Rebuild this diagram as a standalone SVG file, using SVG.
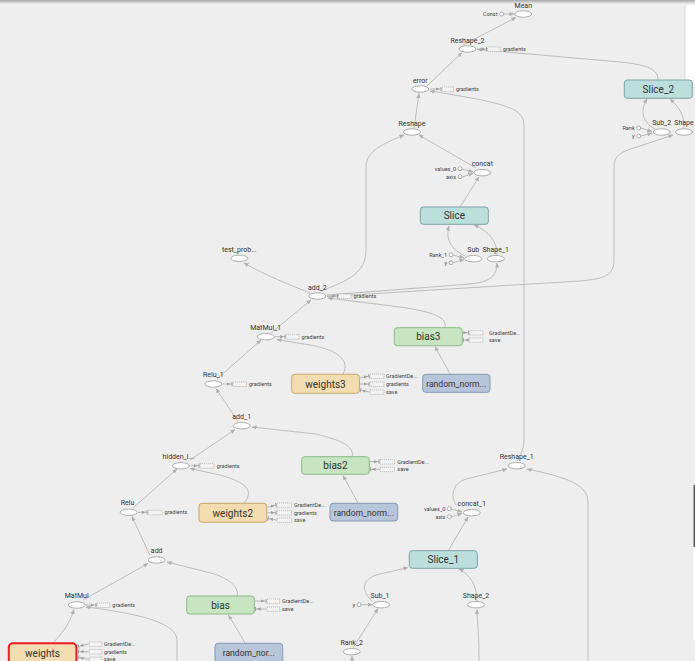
<svg xmlns="http://www.w3.org/2000/svg" width="695" height="661" viewBox="0 0 695 661">
<defs>
<style>
.bg{fill:#eeeeee}
.op{fill:#ffffff;stroke:#9a9a9a;stroke-width:0.8}
.cst{fill:#ffffff;stroke:#9a9a9a;stroke-width:0.8}
.lbl{font-family:Roboto,"Liberation Sans",sans-serif;font-size:7px;fill:#333;text-anchor:middle}
.sm{font-family:Roboto,"Liberation Sans",sans-serif;font-size:5.5px;fill:#444}
.smr{font-family:Roboto,"Liberation Sans",sans-serif;font-size:5.5px;fill:#444;text-anchor:end}
.big{font-family:Roboto,"Liberation Sans",sans-serif;font-size:10px;fill:#333;text-anchor:middle}
.rn{font-family:Roboto,"Liberation Sans",sans-serif;font-size:8.6px;fill:#333;text-anchor:middle}
.edge{fill:none;stroke:#bcbcbc;stroke-width:1}
.ctl{fill:none;stroke:#a8a8a8;stroke-width:0.8}
.box{fill:#f4f4f4;stroke:#a0a0a0;stroke-width:0.6;stroke-dasharray:1.2,0.8}
.teal{fill:#bcdfdc;stroke:#7ea3a0;stroke-width:1}
.green{fill:#c7e5c0;stroke:#8db987;stroke-width:1}
.tan{fill:#f2dcb0;stroke:#c9a872;stroke-width:1}
.sel{fill:#f2dcb0;stroke:#ee1c25;stroke-width:2}
.blue{fill:#b8c6db;stroke:#8797b3;stroke-width:1}
</style>
<marker id="ah" viewBox="0 0 6 6" refX="5.5" refY="3" markerWidth="5" markerHeight="5" markerUnits="userSpaceOnUse" orient="auto"><path d="M0,0.5 L6,3 L0,5.5 z" fill="#b0b0b0"/></marker>
<marker id="bar" viewBox="0 0 8 6" refX="7.5" refY="3" markerWidth="6" markerHeight="5" markerUnits="userSpaceOnUse" orient="auto"><path d="M0,0.8 L5,3 L0,5.2 z" fill="#a0a0a0"/><path d="M6.8,0 L6.8,6" stroke="#909090" stroke-width="1"/></marker>
<linearGradient id="topg" x1="0" y1="0" x2="0" y2="1"><stop offset="0" stop-color="#a8a8a8"/><stop offset="1" stop-color="#eeeeee"/></linearGradient>
</defs>
<rect class="bg" x="0" y="0" width="695" height="661"/>
<rect x="0" y="0" width="695" height="4" fill="url(#topg)"/>
<rect x="684.5" y="5" width="10.5" height="83" fill="#dcdcdc"/>
<rect x="685.5" y="5" width="9.5" height="82" fill="#ffffff"/>
<rect x="693.5" y="485" width="1.5" height="155" fill="#ffffff"/>
<rect x="693.5" y="485" width="1.5" height="62" fill="#555555"/>

<g id="connectors">
<path class="edge" marker-end="url(#ah)" d="M504,14 L514,14"/>
<path class="edge" marker-end="url(#ah)" d="M463,45 L516,17.5"/>
<path class="edge" marker-end="url(#ah)" d="M427,86 L462,52.5"/>
<path class="edge" marker-end="url(#ah)" d="M414,128 L419,93.5"/>
<path class="edge" marker-end="url(#ah)" d="M476,168 L419,135"/>
<path class="edge" marker-end="url(#ah)" d="M321,291 C350,280 366,272 366,250 L366,168 C366,152 378,146 404,135"/>
<path class="edge" marker-end="url(#ah)" d="M460,207 L479,177"/>
<path class="edge" marker-end="url(#ah)" d="M462,169 L473,172"/>
<path class="edge" marker-end="url(#ah)" d="M462,177 L473,173.5"/>
<path class="edge" marker-end="url(#ah)" d="M465,256 C452,250 445,240 449,226"/>
<path class="edge" marker-end="url(#ah)" d="M497,255 C497,242 490,232 474,225"/>
<path class="edge" marker-end="url(#ah)" d="M453,255 L464,258"/>
<path class="edge" marker-end="url(#ah)" d="M453,262.7 L464,259.5"/>
<path class="edge" marker-end="url(#ah)" d="M327,295 L470,284 C490,282 497,276 497,263"/>
<path class="edge" marker-end="url(#ah)" d="M327,296.5 L580,281 C605,279 614,275 614,260 L614,168 C614,155 620,152 640,146 L673,135"/>
<path class="edge" marker-end="url(#ah)" d="M658,80 C658,70 650,65 620,62 L478,49.5"/>
<path class="edge" marker-end="url(#ah)" d="M655,129 C642,122 640,110 647,99"/>
<path class="edge" marker-end="url(#ah)" d="M684,128 C684,115 680,108 670,99"/>
<path class="edge" marker-end="url(#ah)" d="M641,128 L652,131.5"/>
<path class="edge" marker-end="url(#ah)" d="M641,136 L652,133"/>
<path class="edge" marker-end="url(#ah)" d="M517,461.5 C520,455 524,450 524,440 L524,125 C524,108 505,103 430,91"/>
<path class="edge" marker-end="url(#ah)" d="M310,293 C290,285 265,275 244,263"/>
<path class="edge" marker-end="url(#ah)" d="M271,333 L311,300"/>
<path class="edge" marker-end="url(#ah)" d="M445,327 C447,318 435,312 400,307 L328,298"/>
<path class="edge" marker-end="url(#ah)" d="M343,374 C350,362 340,350 310,345 L277,339.5"/>
<path class="edge" marker-end="url(#ah)" d="M450,374 L435,346.5"/>
<path class="edge" marker-end="url(#ah)" d="M217,379 L261,340"/>
<path class="edge" marker-end="url(#ah)" d="M238,421.5 L216,388.5"/>
<path class="edge" marker-end="url(#ah)" d="M190,460 L235,429.5"/>
<path class="edge" marker-end="url(#ah)" d="M352,457 C355,446 340,440 316,434 L252,427"/>
<path class="edge" marker-end="url(#ah)" d="M244,503 C255,490 245,482 220,475 L190,468.5"/>
<path class="edge" marker-end="url(#ah)" d="M358,503 L343,475.5"/>
<path class="edge" marker-end="url(#ah)" d="M133,508 L177,469"/>
<path class="edge" marker-end="url(#ah)" d="M150,555.5 L132,516.5"/>
<path class="edge" marker-end="url(#ah)" d="M83,600 L148,563.5"/>
<path class="edge" marker-end="url(#ah)" d="M237,596 C240,586 225,576 207,572 L167,562"/>
<path class="edge" marker-end="url(#ah)" d="M53,643 C60,635 68,628 74,609.5"/>
<path class="edge" marker-end="url(#ah)" d="M245,643 L228.5,615"/>
<path class="edge" marker-end="url(#ah)" d="M177,661 L177,640 C176,625 150,615 86,607"/>
<path class="edge" marker-end="url(#ah)" d="M456,505 C450,495 452,482 470,478 L507,469"/>
<path class="edge" marker-end="url(#ah)" d="M588,661 L588,503 C588,485 570,478 527,469"/>
<path class="edge" marker-end="url(#ah)" d="M448,551 L468,517"/>
<path class="edge" marker-end="url(#ah)" d="M451,509 L462,512"/>
<path class="edge" marker-end="url(#ah)" d="M451,517 L462,513.5"/>
<path class="edge" marker-end="url(#ah)" d="M372,601 C360,590 362,578 380,574 L408,567.5"/>
<path class="edge" marker-end="url(#ah)" d="M477,601 C477,585 470,575 459,569"/>
<path class="edge" marker-end="url(#ah)" d="M361,604.7 L372.5,604.7"/>
<path class="edge" marker-end="url(#ah)" d="M353,648 L378,608.5"/>
<path class="edge" marker-end="url(#ah)" d="M352,661 L352,656"/>
<path class="edge" marker-end="url(#ah)" d="M479,661 C479,630 477,620 477,609.5"/>
</g>

<g id="Mean"><ellipse class="op" cx="523.3" cy="14" rx="8.5" ry="3.2"/><text class="lbl" x="523.3" y="8">Mean</text></g>
<g id="Const"><circle class="cst" cx="501.7" cy="14" r="2"/><text class="smr" x="497.5" y="16">Const</text></g>
<g id="Reshape_2"><ellipse class="op" cx="467.5" cy="49" rx="8.5" ry="3.2"/><text class="lbl" x="467.5" y="42.5">Reshape_2</text>
<path class="ctl" marker-end="url(#bar)" d="M477,49 L487,49"/><rect class="box" x="487.5" y="47" width="12.5" height="4.5"/><text class="sm" x="503" y="51">gradients</text></g>
<g id="error"><ellipse class="op" cx="420.3" cy="89" rx="8.5" ry="3.2"/><text class="lbl" x="420.3" y="82.5">error</text>
<path class="ctl" marker-end="url(#bar)" d="M430,89 L441.5,89"/><rect class="box" x="442" y="87" width="11.5" height="4.5"/><text class="sm" x="456" y="91">gradients</text></g>
<g id="Reshape"><ellipse class="op" cx="412" cy="132" rx="8.5" ry="3.2"/><text class="lbl" x="412" y="125.5">Reshape</text></g>
<g id="concat"><ellipse class="op" cx="482.3" cy="172.7" rx="8.5" ry="3.2"/><text class="lbl" x="482.3" y="166">concat</text></g>
<g id="values_0"><circle class="cst" cx="460" cy="168.7" r="2"/><text class="smr" x="456" y="170.7">values_0</text></g>
<g id="axis"><circle class="cst" cx="460" cy="176.7" r="2"/><text class="smr" x="456" y="178.7">axis</text></g>
<g id="Slice"><rect class="teal" x="420.3" y="207" width="68" height="17.3" rx="3"/><text class="big" x="454.3" y="219.3">Slice</text></g>
<g id="Sub"><ellipse class="op" cx="473.3" cy="258.7" rx="8.5" ry="3.2"/><text class="lbl" x="473.3" y="252">Sub</text></g>
<g id="Rank_1"><circle class="cst" cx="451" cy="254.7" r="2"/><text class="smr" x="447" y="256.7">Rank_1</text></g>
<g id="y_1"><circle class="cst" cx="451" cy="262.7" r="2"/><text class="smr" x="447" y="264.7">y</text></g>
<g id="Shape_1"><ellipse class="op" cx="495.7" cy="258.7" rx="8.5" ry="3.2"/><text class="lbl" x="495.7" y="252">Shape_1</text></g>
<g id="Slice_2"><rect class="teal" x="624.3" y="80" width="68" height="18.3" rx="3"/><text class="big" x="658.3" y="92.7">Slice_2</text></g>
<g id="Sub_2"><ellipse class="op" cx="661.7" cy="132" rx="8.5" ry="3.2"/><text class="lbl" x="661.7" y="125.3">Sub_2</text></g>
<g id="Rank"><circle class="cst" cx="638.7" cy="128" r="2"/><text class="smr" x="634.7" y="130">Rank</text></g>
<g id="y_2"><circle class="cst" cx="638.7" cy="136" r="2"/><text class="smr" x="634.7" y="138">y</text></g>
<g id="Shape"><ellipse class="op" cx="684" cy="132" rx="8.5" ry="3.2"/><text class="lbl" x="684" y="125.3">Shape</text></g>
<g id="test_prob"><ellipse class="op" cx="239.3" cy="258.3" rx="8.5" ry="3.2"/><text class="lbl" x="239.3" y="252">test_prob...</text></g>
<g id="add_2"><ellipse class="op" cx="317.3" cy="296" rx="8.5" ry="3.2"/><text class="lbl" x="317.3" y="289.5">add_2</text>
<path class="ctl" marker-end="url(#bar)" d="M327,296 L338,296"/><rect class="box" x="338.5" y="294" width="12.5" height="4.5"/><text class="sm" x="353.5" y="298">gradients</text></g>
<g id="MatMul_1"><ellipse class="op" cx="265.7" cy="336.7" rx="8.5" ry="3.2"/><text class="lbl" x="265.7" y="329.5">MatMul_1</text>
<path class="ctl" marker-end="url(#bar)" d="M275,336.7 L285.5,336.7"/><rect class="box" x="286" y="334.7" width="13" height="4.5"/><text class="sm" x="301.5" y="338.7">gradients</text></g>
<g id="bias3"><rect class="green" x="394.3" y="327.7" width="68" height="18" rx="3"/><text class="big" x="428.3" y="340.3">bias3</text>
<path class="ctl" marker-end="url(#bar)" d="M463,332.7 L469,332.7"/><rect class="box" x="469.5" y="330.7" width="13.5" height="4.3"/><text class="sm" x="489" y="334.7">GradientDe...</text>
<path class="ctl" marker-end="url(#bar)" d="M469,340 L463,340"/><rect class="box" x="469.5" y="338" width="13.5" height="4.3"/><text class="sm" x="489" y="342">save</text></g>
<g id="weights3"><rect class="tan" x="291.7" y="374.3" width="67.7" height="19" rx="3"/><text class="big" x="325.5" y="387.5">weights3</text>
<path class="ctl" marker-end="url(#bar)" d="M360,378 L369.5,376"/><rect class="box" x="370" y="374" width="14" height="4.3"/><text class="sm" x="386" y="378">GradientDe...</text>
<path class="ctl" marker-end="url(#bar)" d="M360,384 L369.5,384"/><rect class="box" x="370" y="382" width="14" height="4.3"/><text class="sm" x="386" y="386">gradients</text>
<path class="ctl" marker-end="url(#bar)" d="M369.5,392 L360,390"/><rect class="box" x="370" y="390" width="14" height="4.3"/><text class="sm" x="386" y="394">save</text></g>
<g id="random_norm3"><rect class="blue" x="422.7" y="374.3" width="67.3" height="18" rx="3"/><text class="rn" x="456.3" y="386.5">random_norm...</text></g>
<g id="Relu_1"><ellipse class="op" cx="213.3" cy="384" rx="8.5" ry="3.2"/><text class="lbl" x="213.3" y="377">Relu_1</text>
<path class="ctl" marker-end="url(#bar)" d="M223,384 L232.5,384"/><rect class="box" x="233" y="382" width="13.5" height="4.5"/><text class="sm" x="249" y="386">gradients</text></g>
<g id="add_1"><ellipse class="op" cx="241.7" cy="425.7" rx="8.5" ry="3.2"/><text class="lbl" x="241.7" y="418.5">add_1</text></g>
<g id="hidden_l"><ellipse class="op" cx="181" cy="465.7" rx="8.5" ry="3.2"/><text class="lbl" x="178.3" y="458.5">hidden_l...</text>
<path class="ctl" marker-end="url(#bar)" d="M191,465.7 L199.5,465.7"/><rect class="box" x="200" y="463.7" width="14" height="4.5"/><text class="sm" x="216.7" y="467.7">gradients</text></g>
<g id="bias2"><rect class="green" x="301.7" y="456.7" width="67.6" height="17.6" rx="3"/><text class="big" x="335.5" y="469">bias2</text>
<path class="ctl" marker-end="url(#bar)" d="M370,461.7 L379.5,461.7"/><rect class="box" x="380" y="459.7" width="14.5" height="4.3"/><text class="sm" x="397.3" y="463.7">GradientDe...</text>
<path class="ctl" marker-end="url(#bar)" d="M379.5,469.3 L370,469.3"/><rect class="box" x="380" y="467.3" width="14.5" height="4.3"/><text class="sm" x="397.3" y="471.3">save</text></g>
<g id="weights2"><rect class="tan" x="199" y="503.3" width="67.7" height="19" rx="3"/><text class="big" x="232.8" y="516.5">weights2</text>
<path class="ctl" marker-end="url(#bar)" d="M267.5,507 L276.5,505"/><rect class="box" x="277" y="503" width="14.5" height="4.3"/><text class="sm" x="294" y="507">GradientDe...</text>
<path class="ctl" marker-end="url(#bar)" d="M267.5,512.7 L276.5,512.7"/><rect class="box" x="277" y="510.7" width="14.5" height="4.3"/><text class="sm" x="294" y="514.7">gradients</text>
<path class="ctl" marker-end="url(#bar)" d="M276.5,520 L267.5,518.5"/><rect class="box" x="277" y="518" width="14.5" height="4.3"/><text class="sm" x="294" y="522">save</text></g>
<g id="random_norm2"><rect class="blue" x="330" y="503.3" width="67.7" height="17.7" rx="3"/><text class="rn" x="363.8" y="515.5">random_norm...</text></g>
<g id="Relu"><ellipse class="op" cx="128.7" cy="512.3" rx="8.5" ry="3.2"/><text class="lbl" x="127.5" y="505.3">Relu</text>
<path class="ctl" marker-end="url(#bar)" d="M138,512.3 L147.5,512.3"/><rect class="box" x="148.3" y="510.3" width="14" height="4.5"/><text class="sm" x="164.5" y="514.3">gradients</text></g>
<g id="add"><ellipse class="op" cx="156.7" cy="560" rx="8.5" ry="3.2"/><text class="lbl" x="156.7" y="553">add</text></g>
<g id="MatMul"><ellipse class="op" cx="76.7" cy="605" rx="8.5" ry="3.2"/><text class="lbl" x="76.7" y="597.5">MatMul</text>
<path class="ctl" marker-end="url(#bar)" d="M86,605 L96.5,605"/><rect class="box" x="97" y="603" width="13" height="4.5"/><text class="sm" x="112.3" y="607">gradients</text></g>
<g id="bias"><rect class="green" x="186.7" y="596" width="67.6" height="18" rx="3"/><text class="big" x="220.5" y="608.5">bias</text>
<path class="ctl" marker-end="url(#bar)" d="M255,601 L266.5,601"/><rect class="box" x="267" y="599" width="12.5" height="4.3"/><text class="sm" x="282" y="603">GradientDe...</text>
<path class="ctl" marker-end="url(#bar)" d="M266.5,609 L255,609"/><rect class="box" x="267" y="607" width="12.5" height="4.3"/><text class="sm" x="282" y="611">save</text></g>
<g id="weights"><rect class="sel" x="8.8" y="643.2" width="67.6" height="21" rx="4"/><text class="big" x="42.5" y="656.5">weights</text>
<path class="ctl" marker-end="url(#bar)" d="M88.5,644 L78,646.5"/><rect class="box" x="89.3" y="642" width="12.5" height="4.3"/><text class="sm" x="104" y="646">GradientDe...</text>
<path class="ctl" marker-end="url(#bar)" d="M88.5,651.7 L78,651.7"/><rect class="box" x="89.3" y="649.7" width="12.5" height="4.3"/><text class="sm" x="104" y="653.7">gradients</text>
<path class="ctl" marker-end="url(#bar)" d="M88.5,659.3 L78,657.5"/><rect class="box" x="89.3" y="657.3" width="12.5" height="4.3"/><text class="sm" x="104" y="661.3">save</text></g>
<g id="random_nor"><rect class="blue" x="215" y="643.3" width="67.7" height="19" rx="3"/><text class="rn" x="248.8" y="655.5">random_nor...</text></g>
<g id="Reshape_1"><ellipse class="op" cx="516.7" cy="465.7" rx="8.5" ry="3.2"/><text class="lbl" x="516.7" y="458.5">Reshape_1</text></g>
<g id="concat_1"><ellipse class="op" cx="471.7" cy="512.7" rx="8.5" ry="3.2"/><text class="lbl" x="471.7" y="505.5">concat_1</text></g>
<g id="values_0_1"><circle class="cst" cx="449.3" cy="508.7" r="2"/><text class="smr" x="445.3" y="510.7">values_0</text></g>
<g id="axis_1"><circle class="cst" cx="449.3" cy="516.7" r="2"/><text class="smr" x="445.3" y="518.7">axis</text></g>
<g id="Slice_1"><rect class="teal" x="409.3" y="550.7" width="68" height="17.6" rx="3"/><text class="big" x="443.3" y="563">Slice_1</text></g>
<g id="Sub_1"><ellipse class="op" cx="381.3" cy="604.7" rx="8.5" ry="3.2"/><text class="lbl" x="380" y="597.5">Sub_1</text></g>
<g id="y_3"><circle class="cst" cx="359" cy="604.7" r="2"/><text class="smr" x="355" y="606.7">y</text></g>
<g id="Shape_2"><ellipse class="op" cx="476" cy="604.7" rx="8.5" ry="3.2"/><text class="lbl" x="476" y="597.5">Shape_2</text></g>
<g id="Rank_2"><ellipse class="op" cx="351.7" cy="651.7" rx="8.5" ry="3.2"/><text class="lbl" x="351.7" y="644.5">Rank_2</text></g>
</svg>
